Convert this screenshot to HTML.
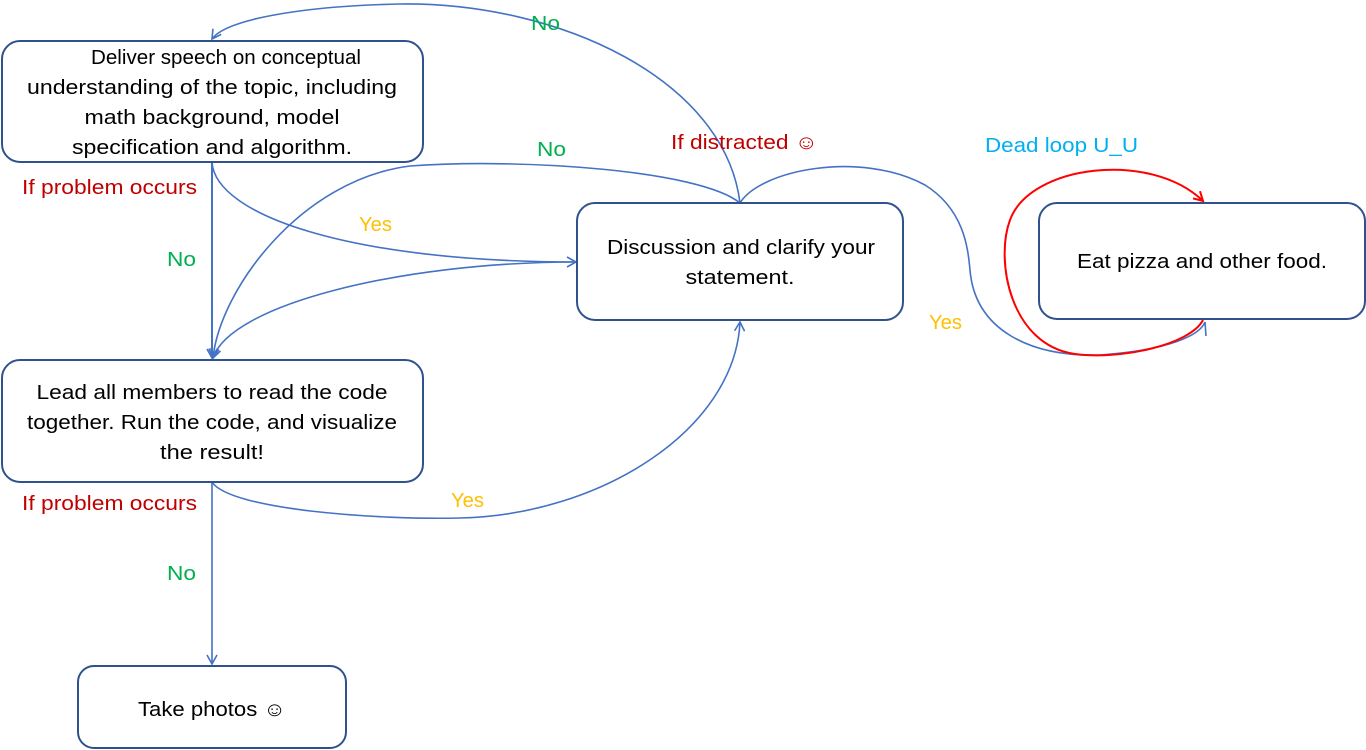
<!DOCTYPE html>
<html><head><meta charset="utf-8"><style>
body{margin:0;background:#fff;}
svg{display:block;font-family:"Liberation Sans",sans-serif;}
.b{fill:#fff;stroke:#2F528F;stroke-width:2}
.l{fill:none;stroke:#4472C4;stroke-width:1.6}
text{font-size:20px}
.t{fill:#000;text-anchor:middle}
.g{fill:#00B050}
.y{fill:#FFC000}
.r{fill:#C00000}
</style></head><body>
<svg width="1366" height="750" viewBox="0 0 1366 750">
<defs>
<marker id="a" markerWidth="12" markerHeight="12" refX="10" refY="6" orient="auto" markerUnits="userSpaceOnUse"><path d="M1,1 L10,6 L1,11" fill="none" stroke="#4472C4" stroke-width="1.6"/></marker>
<marker id="ar" markerWidth="12" markerHeight="12" refX="10" refY="6" orient="auto" markerUnits="userSpaceOnUse"><path d="M1,1 L10,6 L1,11" fill="none" stroke="#FF0000" stroke-width="2"/></marker>
</defs>
<path class="l" d="M212,162 L212,358" marker-end="url(#a)" style="stroke-width:2"/>
<path class="l" d="M212,162 C215,215 350,262 576,262" marker-end="url(#a)"/>
<path class="l" d="M577,262 C400,262 230,305 213,358" marker-end="url(#a)"/>
<path class="l" d="M740,203 C700,170 520,158 410,166 C300,180 220,290 213,358" marker-end="url(#a)"/>
<path class="l" d="M740,203 C725,80 560,2 400,4 C300,6 225,20 212,39" marker-end="url(#a)"/>
<path class="l" d="M740,203 C760,170 860,150 925,185 C965,210 968,250 970,270 C975,330 1030,357 1100,355 C1170,350 1200,335 1205,322 L1206,336"/>
<path d="M1203,320 C1190,345 1120,360 1075,354 C1010,345 995,260 1010,220 C1030,165 1150,150 1203,201" fill="none" stroke="#FF0000" stroke-width="2" marker-end="url(#ar)"/>
<path class="l" d="M212,482 C230,510 380,520 460,518 C600,515 735,430 740,322" marker-end="url(#a)"/>
<path class="l" d="M212,482 L212,664" marker-end="url(#a)"/>
<rect class="b" x="2" y="41" width="421" height="121" rx="18"/>
<rect class="b" x="577" y="203" width="326" height="117" rx="18"/>
<rect class="b" x="1039" y="203" width="326" height="116" rx="18"/>
<rect class="b" x="2" y="360" width="421" height="122" rx="18"/>
<rect class="b" x="78" y="666" width="268" height="82" rx="16"/>
<text class="t" x="226" y="64" textLength="270" lengthAdjust="spacingAndGlyphs">Deliver speech on conceptual</text>
<text class="t" x="212" y="94" textLength="370" lengthAdjust="spacingAndGlyphs">understanding of the topic, including</text>
<text class="t" x="212" y="124" textLength="255" lengthAdjust="spacingAndGlyphs">math background, model</text>
<text class="t" x="212" y="154" textLength="280" lengthAdjust="spacingAndGlyphs">specification and algorithm.</text>
<text class="t" x="741" y="254" textLength="268" lengthAdjust="spacingAndGlyphs">Discussion and clarify your</text>
<text class="t" x="740" y="284" textLength="109" lengthAdjust="spacingAndGlyphs">statement.</text>
<text class="t" x="1202" y="268" textLength="250" lengthAdjust="spacingAndGlyphs">Eat pizza and other food.</text>
<text class="t" x="212" y="399" textLength="351" lengthAdjust="spacingAndGlyphs">Lead all members to read the code</text>
<text class="t" x="212" y="429" textLength="370" lengthAdjust="spacingAndGlyphs">together. Run the code, and visualize</text>
<text class="t" x="212" y="459" textLength="104" lengthAdjust="spacingAndGlyphs">the result!</text>
<text class="t" x="212" y="716" textLength="148" lengthAdjust="spacingAndGlyphs">Take photos ☺</text>
<text class="g" x="531" y="30" textLength="29" lengthAdjust="spacingAndGlyphs">No</text>
<text class="g" x="537" y="156" textLength="29" lengthAdjust="spacingAndGlyphs">No</text>
<text class="g" x="167" y="266" textLength="29" lengthAdjust="spacingAndGlyphs">No</text>
<text class="g" x="167" y="580" textLength="29" lengthAdjust="spacingAndGlyphs">No</text>
<text class="r" x="671" y="149" textLength="147" lengthAdjust="spacingAndGlyphs">If distracted ☺</text>
<text class="r" x="22" y="194" textLength="175" lengthAdjust="spacingAndGlyphs">If problem occurs</text>
<text class="r" x="22" y="510" textLength="175" lengthAdjust="spacingAndGlyphs">If problem occurs</text>
<text class="y" x="359" y="231" textLength="33" lengthAdjust="spacingAndGlyphs">Yes</text>
<text class="y" x="929" y="329" textLength="33" lengthAdjust="spacingAndGlyphs">Yes</text>
<text class="y" x="451" y="507" textLength="33" lengthAdjust="spacingAndGlyphs">Yes</text>
<text x="985" y="152" style="fill:#00B0F0" textLength="153" lengthAdjust="spacingAndGlyphs">Dead loop U_U</text>
</svg>
</body></html>
